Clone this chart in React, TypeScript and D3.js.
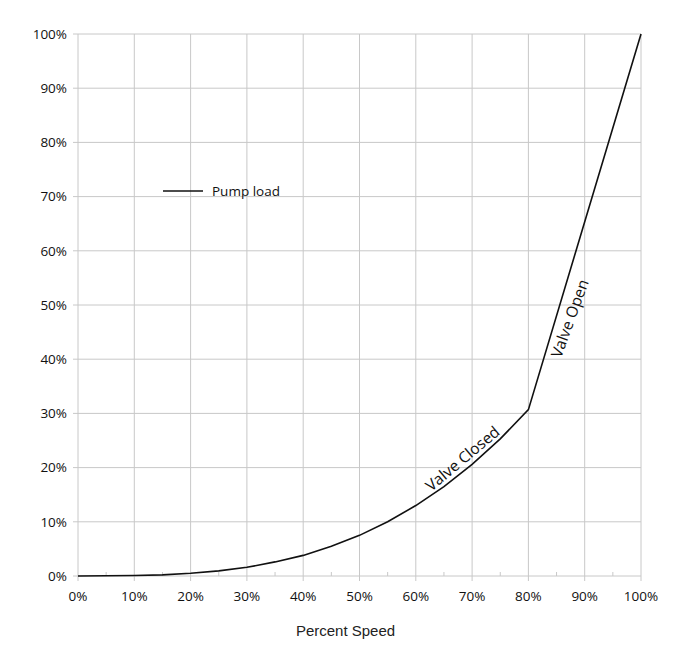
import React from "react";
import * as d3 from "d3";

// percent speed (x) and pump load (y)
const speeds = [0, 5, 10, 15, 20, 25, 30, 35, 40, 45, 50, 55, 60, 65, 70, 75, 80, 100];
const loads = [0, 0.05, 0.1, 0.2, 0.5, 0.95, 1.6, 2.6, 3.8, 5.5, 7.5, 10.0, 13.0, 16.5, 20.6, 25.3, 30.7, 100];
const xTicks = [0, 10, 20, 30, 40, 50, 60, 70, 80, 90, 100];
const xMinor = [5, 15, 25, 35, 45, 55, 65, 75, 85, 95];
const yTicks = [0, 10, 20, 30, 40, 50, 60, 70, 80, 90, 100];
const labels = [
  { text: "Valve Closed", at: 69.5, lift: 5, angle: -40 },
  { text: "Valve Open", at: 85.1, lift: -19, angle: -70 },
];

const W = 700;
const H = 647;
const left = 78;
const right = 641;
const top = 34;
const bottom = 576;

const App = () => {
  const x = d3.scaleLinear().domain([0, 100]).range([left, right]);
  const y = d3.scaleLinear().domain([0, 100]).range([bottom, top]);
  const pts: [number, number][] = speeds.map((s, i) => [s, loads[i]]);
  const line = d3
    .line<[number, number]>()
    .x((d) => x(d[0]))
    .y((d) => y(d[1]));
  const grid = "#c8c8c8";
  const tickFont = "'Open Sans', 'Noto Sans', sans-serif";

  // position along the line for a label
  const at = (s: number) => {
    const v = d3.scaleLinear().domain(speeds).range(loads)(s);
    return [x(s), y(v)];
  };

  return (
    <svg
      width={W}
      height={H}
      style={{ position: "absolute", left: 0, top: 0, background: "#fff" }}
    >
      {xTicks.map((t) => (
        <line
          key={"xg" + t}
          x1={x(t)}
          x2={x(t)}
          y1={top}
          y2={bottom + 5}
          stroke={grid}
          strokeWidth={1}
        />
      ))}
      {xMinor.map((t) => (
        <line
          key={"xm" + t}
          x1={x(t)}
          x2={x(t)}
          y1={bottom - 4}
          y2={bottom}
          stroke={grid}
          strokeWidth={1}
        />
      ))}
      {yTicks.map((t) => (
        <line
          key={"yg" + t}
          x1={left - 5}
          x2={right}
          y1={y(t)}
          y2={y(t)}
          stroke={grid}
          strokeWidth={1}
        />
      ))}
      {yTicks.map((t) => (
        <text
          key={"yl" + t}
          x={left - 11}
          y={y(t)}
          dy="0.35em"
          textAnchor="end"
          fontSize={13.5}
          fontFamily={tickFont}
          fill="#111"
        >
          {t}%
        </text>
      ))}
      {xTicks.map((t) => (
        <text
          key={"xl" + t}
          x={x(t)}
          y={bottom + 20}
          dy="0.35em"
          textAnchor="middle"
          fontSize={13.5}
          fontFamily={tickFont}
          fill="#111"
        >
          {t}%
        </text>
      ))}
      <path d={line(pts) || ""} fill="none" stroke="#111" strokeWidth={1.6} />
      {labels.map((l) => {
        const [px, py] = at(l.at);
        const rad = ((l.angle - 90) * Math.PI) / 180;
        const cx = px + Math.cos(rad) * l.lift;
        const cy = py + Math.sin(rad) * l.lift;
        return (
          <text
            key={l.text}
            x={cx}
            y={cy}
            textAnchor="middle"
            fontSize={15.5}
            fontFamily="'Open Sans', 'Noto Sans', sans-serif"
            fill="#111"
            transform={`rotate(${l.angle}, ${cx}, ${cy})`}
          >
            {l.text}
          </text>
        );
      })}
      <line x1={163} x2={203} y1={191} y2={191} stroke="#111" strokeWidth={1.6} />
      <text
        x={212}
        y={191}
        dy="0.35em"
        fontSize={13.5}
        fontFamily={tickFont}
        fill="#111"
      >
        Pump load
      </text>
      <text
        x={(left + right) / 2 - 14}
        y={631}
        dy="0.35em"
        textAnchor="middle"
        fontSize={15}
        fontFamily="'Liberation Sans', Arial, sans-serif"
        fill="#222"
      >
        Percent Speed
      </text>
    </svg>
  );
};

export default App;
